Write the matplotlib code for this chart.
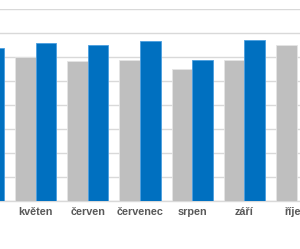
import matplotlib.pyplot as plt
import numpy as np

# months (the chart is cropped: duben and říjen are only partly visible)
months = ["duben", "květen", "červen", "červenec", "srpen", "září", "říjen"]
prev_year = [60.0, 59.9, 58.3, 58.6, 54.9, 58.8, 64.9]
this_year = [63.8, 65.7, 64.9, 66.5, 58.6, 67.2, np.nan]

GRAY = "#bfbfbf"
BLUE = "#0070c0"
GRID = "#d9d9d9"

fig = plt.figure(figsize=(3.0, 2.49), dpi=100)
ax = fig.add_axes([0.0, 48 / 249, 1.0, 192 / 249])

x = np.arange(len(months))
w = 0.393
ax.bar(x - w / 2, prev_year, w, color=GRAY, edgecolor="#e4e4e4", linewidth=0.6, zorder=3)
ax.bar(x + w / 2, this_year, w, color=BLUE, edgecolor="#4a9ee0", linewidth=0.6, zorder=3)

ax.set_xticks(x)
ax.set_xticklabels(months, fontweight="bold", family="Liberation Sans")
ax.set_yticks(np.arange(0, 81, 10))
# limits after set_ticks, which would otherwise widen the view
ax.set_xlim(0.318, 6.065)
ax.set_ylim(0, 80)
ax.yaxis.grid(True, color=GRID, linewidth=1.0, zorder=0)
ax.tick_params(axis="y", left=False, labelleft=False)
ax.tick_params(axis="x", length=0, pad=4.5, labelsize=7.8, labelcolor="#595959")
for side in ("top", "left", "right"):
    ax.spines[side].set_visible(False)
ax.spines["bottom"].set_color(GRID)
ax.spines["bottom"].set_linewidth(1.0)

fig.savefig("out.png", dpi=100)
